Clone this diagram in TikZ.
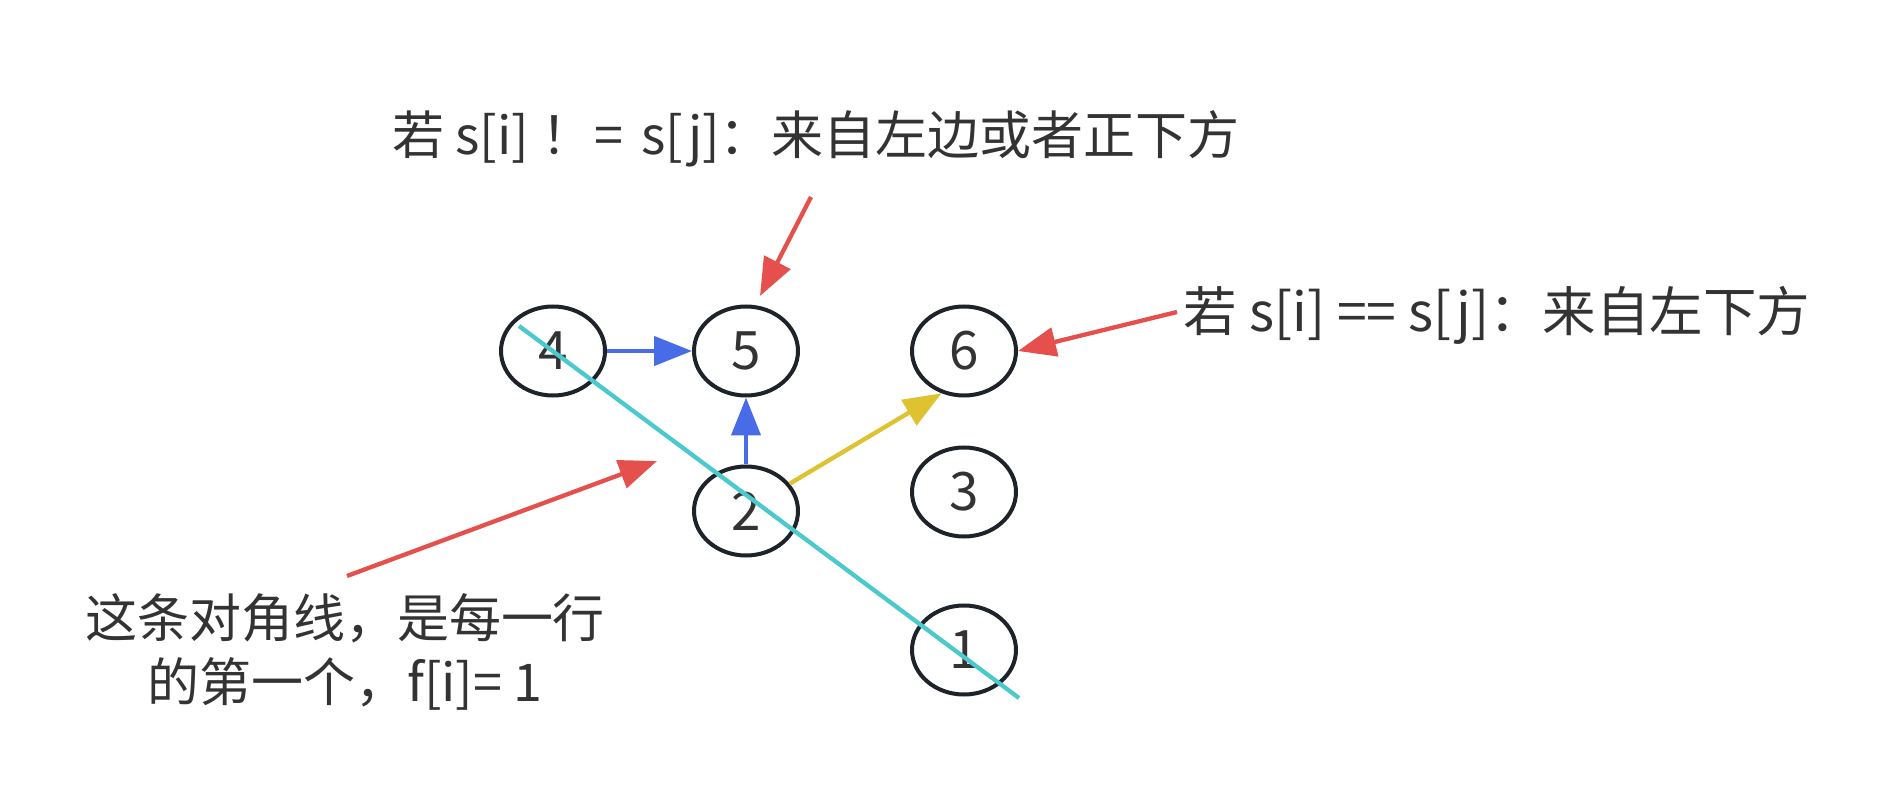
\documentclass[tikz,border=0pt]{standalone}
\usepackage{fontspec}
\setmainfont{Noto Sans CJK SC}
\usetikzlibrary{shapes.geometric,arrows.meta}
\definecolor{txt}{RGB}{51,51,51}
\definecolor{ringc}{RGB}{30,35,41}
\definecolor{bluec}{RGB}{72,107,232}
\definecolor{yelc}{RGB}{222,194,48}
\definecolor{redc}{RGB}{229,80,77}
\definecolor{cyanc}{RGB}{76,201,205}
\tikzset{
  numnode/.style={ellipse, draw=ringc, line width=4pt, fill=white, minimum width=104pt, minimum height=89pt, inner sep=0pt, text=txt, font=\fontsize{53}{60}\selectfont},
  label/.style={text=txt, font=\fontsize{52}{64}\selectfont, inner sep=0pt, align=center},
  conn/.style={line width=4.3pt, -{Triangle[length=38pt,width=29pt]}},
}
\begin{document}
\begin{tikzpicture}[x=1pt,y=-1pt]
\useasboundingbox[fill=white] (0,0) rectangle (1891,799);
\node[numnode] (n4) at (553,351) {4};
\node[numnode] (n5) at (746,351) {5};
\node[numnode] (n6) at (964,351) {6};
\node[numnode] (n2) at (746,511) {2};
\node[numnode] (n3) at (964,492) {3};
\node[numnode] (n1) at (964,650) {1};
\node[label] (ta) at (816,139) {若 s[i] ！\kern-10pt\ =\kern18pt s[j]：来自左边或者正下方};
\node[label, font=\fontsize{53.5}{64}\selectfont] (tb) at (1497,315) {若 s[i] == s[j]：来自左下方};
\node[label] (tc) at (345,652) {这条对角线，是每一行\\的第一个，f[i]= 1};
\coordinate (a0) at (811,197);
\coordinate (a1) at (760,296);
\coordinate (b0) at (1177,312);
\coordinate (c0) at (347,576);
\coordinate (c1) at (657,461);
\coordinate (d0) at (519,326);
\coordinate (d1) at (1019,698);
\draw[conn, bluec] (n4) -- (n5);
\draw[conn, bluec] (n2) -- (n5);
\draw[conn, yelc] (n2.32) -- (n6.242);
\draw[conn, redc] (a0) -- (a1);
\draw[conn, redc] (b0) -- (n6.east);
\draw[conn, redc] (c0) -- (c1);
\draw[line width=4.3pt, cyanc] (d0) -- (d1);
\end{tikzpicture}
\end{document}
